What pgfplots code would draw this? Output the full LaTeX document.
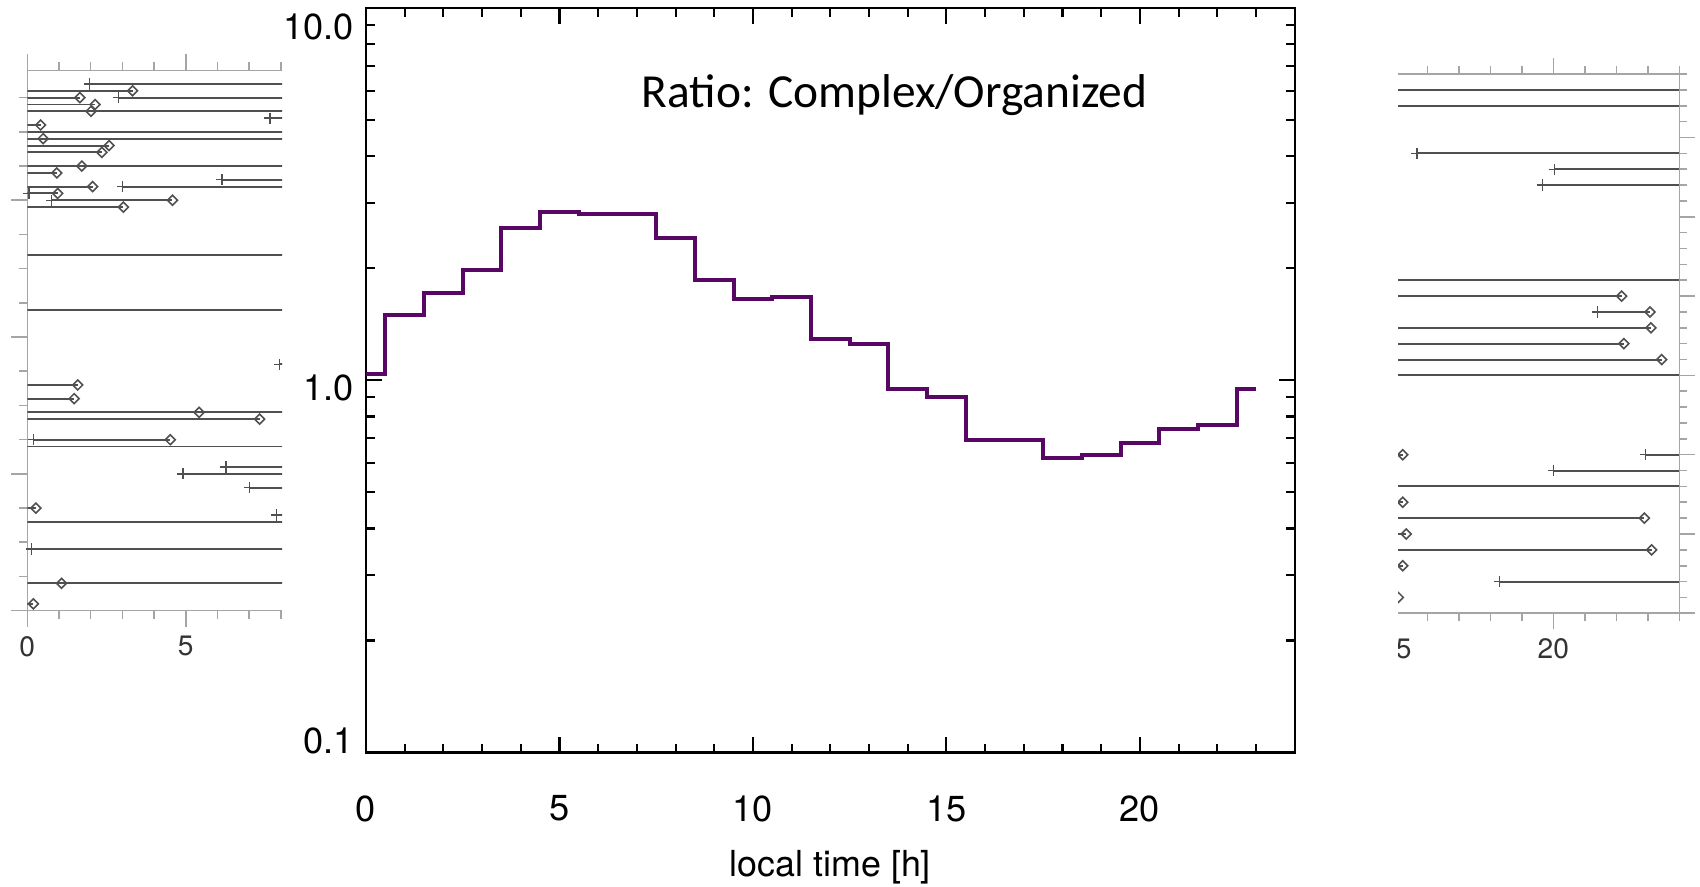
\documentclass[border=0pt]{standalone}
\usepackage{fontspec}
\setmainfont{TeX Gyre Heros}
\newfontfamily\carlito{Carlito}
\usepackage{pgfplots}
\pgfplotsset{compat=1.18}

\definecolor{ratioline}{RGB}{88,8,100}
\definecolor{rowgray}{RGB}{80,80,80}
\definecolor{framegray}{RGB}{165,165,165}

% move a tick label up/down without changing its box
\newcommand{\lift}[2]{\raisebox{#1}[\height][\depth]{#2}}

\pgfplotsset{
  sidepanel/.style={
    scale only axis, anchor=south west,
    tick align=outside,
    major tick length=1.6mm, minor tick length=0.8mm,
    axis line style={framegray, line width=0.45pt},
    tick style={framegray, line width=0.45pt},
    yticklabels={},
    xticklabel style={font=\fontsize{8}{9.5}\selectfont, text=black!80, yshift=0.3mm},
  },
  rowline/.style={rowgray, line width=0.55pt, unbounded coords=jump, forget plot},
  rowend/.style={only marks, mark=square, mark size=1pt,
    mark options={rotate=45, draw=rowgray, fill=white, line width=0.45pt}, forget plot},
  rowstart/.style={only marks, mark=+, mark size=1.6pt,
    mark options={draw=rowgray, line width=0.4pt}, forget plot},
}

\begin{document}
\begin{tikzpicture}
\useasboundingbox (0,0) rectangle (17cm,8.87cm);

% ---- left side panel (cut off at x=8)
\begin{scope}
\clip (0,0) rectangle (2.82cm,8.87cm);
\begin{axis}[sidepanel,
    at={(0.273cm,2.763cm)}, width=2.853cm, height=5.404cm,
    xmin=0, xmax=9, ymin=0, ymax=79,
    xtick={0,5}, xticklabels={0,5}, minor xtick={1,2,3,4,6,7,8},
    ytick={0,20,40,60}, minor ytick={5,10,...,75},
]
\addplot[rowline] coordinates {
 (1.96,77) (9,77) (nan,nan)
 (0,76) (3.32,76) (nan,nan)
 (0,75) (1.66,75) (nan,nan) (2.87,75) (9,75) (nan,nan)
 (0,74) (2.14,74) (nan,nan)
 (0,73) (9,73) (nan,nan)
 (7.66,72) (9,72) (nan,nan)
 (0,71) (0.42,71) (nan,nan)
 (0,70) (9,70) (nan,nan)
 (0,69) (9,69) (nan,nan)
 (0,68) (2.58,68) (nan,nan)
 (0,67) (2.35,67) (nan,nan)
 (0,65) (9,65) (nan,nan)
 (0,64) (0.93,64) (nan,nan)
 (6.14,63) (9,63) (nan,nan)
 (0,62) (2.06,62) (nan,nan) (3.01,62) (9,62) (nan,nan)
 (0,61) (0.96,61) (nan,nan)
 (0.77,60) (4.58,60) (nan,nan)
 (0,59) (3.03,59) (nan,nan)
 (0,52) (9,52) (nan,nan)
 (0,44) (9,44) (nan,nan)
 (7.96,36) (9,36) (nan,nan)
 (0,33) (1.59,33) (nan,nan)
 (0,31) (1.48,31) (nan,nan)
 (0,29) (9,29) (nan,nan)
 (0,28) (7.33,28) (nan,nan)
 (0.19,25) (4.51,25) (nan,nan)
 (0,24) (9,24) (nan,nan)
 (6.27,21) (9,21) (nan,nan)
 (4.91,20) (9,20) (nan,nan)
 (7.01,18) (9,18) (nan,nan)
 (0,15) (0.27,15) (nan,nan)
 (7.87,14) (9,14) (nan,nan)
 (0,13) (9,13) (nan,nan)
 (0.14,9) (9,9) (nan,nan)
 (0,4) (9,4) (nan,nan)
 (0,1) (0.19,1)
};
\addplot[rowstart] coordinates {
 (1.96,77) (2.87,75) (7.66,72) (6.14,63) (3.01,62) (0.05,61) (0.77,60)
 (7.96,36) (0.19,25) (6.27,21) (4.91,20) (7.01,18) (7.87,14) (0.14,9)
};
\addplot[rowend] coordinates {
 (3.32,76) (1.66,75) (2.14,74) (2.01,73) (0.42,71) (0.5,69) (2.58,68)
 (2.35,67) (1.72,65) (0.93,64) (2.06,62) (0.96,61) (4.58,60) (3.03,59)
 (1.59,33) (1.48,31) (5.42,29) (7.33,28) (4.51,25) (0.27,15) (1.08,4) (0.19,1)
};
\end{axis}
\end{scope}

% ---- right side panel (cut off left of x=15.1)
\begin{scope}
\clip (13.98cm,0) rectangle (17cm,8.87cm);
\begin{axis}[sidepanel,
    at={(13.643cm,2.737cm)}, width=3.15cm, height=5.392cm,
    xmin=14, xmax=24, ymin=0, ymax=34,
    xtick={15,20}, xticklabels={15,20}, minor xtick={16,17,18,19,21,22,23,24},
    ytick={0,5,...,30}, minor ytick={0,...,34},
]
\addplot[rowline] coordinates {
 (14,33) (24,33) (nan,nan)
 (14,32) (24,32) (nan,nan)
 (15.67,29) (24,29) (nan,nan)
 (20.03,28) (24,28) (nan,nan)
 (19.65,27) (24,27) (nan,nan)
 (14,21) (24,21) (nan,nan)
 (14,20) (22.17,20) (nan,nan)
 (21.4,19) (23.07,19) (nan,nan)
 (14,18) (23.1,18) (nan,nan)
 (14,17) (22.24,17) (nan,nan)
 (14,16) (23.44,16) (nan,nan)
 (14,15) (24,15) (nan,nan)
 (14,10) (15.22,10) (nan,nan) (22.93,10) (24,10) (nan,nan)
 (20.0,9) (24,9) (nan,nan)
 (14,8) (24,8) (nan,nan)
 (14,7) (15.22,7) (nan,nan)
 (14,6) (22.89,6) (nan,nan)
 (14,5) (15.33,5) (nan,nan)
 (14,4) (23.12,4) (nan,nan)
 (14,3) (15.22,3) (nan,nan)
 (18.29,2) (24,2) (nan,nan)
 (14,1) (15.08,1)
};
\addplot[rowstart] coordinates {
 (15.67,29) (20.03,28) (19.65,27) (21.4,19) (22.93,10) (20.0,9) (18.29,2)
};
\addplot[rowend] coordinates {
 (22.17,20) (23.07,19) (23.1,18) (22.24,17) (23.44,16) (15.22,10)
 (15.22,7) (22.89,6) (15.33,5) (23.12,4) (15.22,3) (15.08,1)
};
\end{axis}
\end{scope}

% ---- main chart
\begin{axis}[
    at={(3.66cm,1.345cm)}, anchor=south west, scale only axis,
    width=9.287cm, height=7.442cm,
    ymode=log, xmin=0, xmax=24, ymin=0.1, ymax=10,
    xtick={0,5,10,15,20}, xticklabels={0,5,10,15,20},
    minor xtick={1,...,23},
    ytick={0.1,1,10},
    yticklabels={\lift{1.17mm}{0.1},\lift{-0.74mm}{1.0},\lift{-1.84mm}{10.0}},
    minor ytick={0.2,0.3,0.4,0.5,0.6,0.7,0.8,0.9,2,3,4,5,6,7,8,9},
    tick align=inside, major tick length=1.6mm, minor tick length=0.85mm,
    axis line style={line width=0.6pt},
    tick style={line width=0.6pt, black},
    ticklabel style={font=\fontsize{10.3}{12}\selectfont},
    xticklabel style={yshift=-3.05mm},
    xlabel={local time [h]},
    xlabel style={font=\fontsize{10.2}{12}\selectfont, at={(rel axis cs:0.5,0)},
      anchor=center, yshift=-11.45mm},
]
\addplot[ratioline, line width=1.15pt, const plot mark mid] table {
x y
0 1.04
1 1.50
2 1.72
3 1.98
4 2.56
5 2.84
6 2.80
7 2.80
8 2.41
9 1.86
10 1.65
11 1.68
12 1.29
13 1.25
14 0.95
15 0.90
16 0.69
17 0.69
18 0.62
19 0.63
20 0.68
21 0.74
22 0.76
23 0.95
};
\node[anchor=base west, inner sep=0pt, font=\carlito\fontsize{13.5}{16}\selectfont]
  at (rel axis cs:0.296,0.8666) {Ratio: Complex/Organized};
\end{axis}
\end{tikzpicture}
\end{document}
